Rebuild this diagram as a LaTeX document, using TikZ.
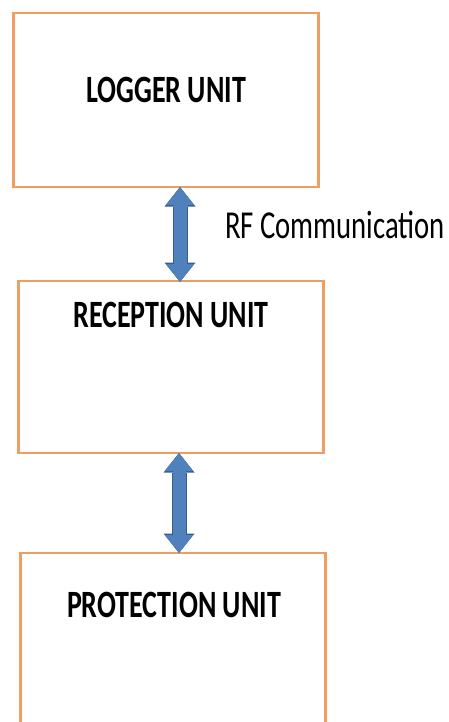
\documentclass[tikz,border=0pt]{standalone}
\usepackage{fontspec}
\setmainfont{Carlito}
\usetikzlibrary{arrows.meta}

\definecolor{boxedge}{RGB}{238,158,96}
\definecolor{arrowfill}{RGB}{79,129,189}
\definecolor{arrowedge}{RGB}{56,93,138}

\begin{document}
\begin{tikzpicture}[
    x = 1pt,
    y = -1pt,
    % the boxes of the three units
    unit/.style = {draw = boxedge, line width = 2.4pt, fill = white,
      minimum width = 305pt, inner sep = 0pt},
    caption/.style = {font = \bfseries\fontsize{28}{30}\selectfont, inner sep = 0pt},
    note/.style = {font = \fontsize{28.7}{30}\selectfont, inner sep = 0pt},
    % fat blue double arrow
    link/.style = {arrowfill, line width = 13pt,
      {Triangle[width = 28pt, length = 18pt, line width = 0pt]}-{Triangle[width = 28pt, length = 18pt, line width = 0pt]},
      preaction = {draw = arrowedge, line width = 15pt,
        {Triangle[width = 31pt, length = 19.5pt, line width = 0pt]}-{Triangle[width = 31pt, length = 19.5pt, line width = 0pt]}}},
    ]

    \def\tall#1{\scalebox{1}[1.38]{#1}}

    \useasboundingbox (0, 0) rectangle (449, 722);

    % boxes, the last one runs out of the picture
    \node[unit, minimum height = 174pt] (logger) at (166, 100) {};
    \node[unit, minimum height = 172pt] (reception) at (171, 367) {};
    \node[unit, minimum height = 190pt] (protection) at (173, 648) {};

    % texts in the boxes
    \node[caption] (loggertext) at (166, 90) {\tall{LOGGER UNIT}};
    \node[caption] (receptiontext) at (171, 314.5) {\tall{RECEPTION UNIT}};
    \node[caption] (protectiontext) at (174, 604.5) {\tall{PROTECTION UNIT}};

    % ends of the arrows
    \coordinate (a0) at (180, 187);
    \coordinate (a1) at (180, 282);
    \coordinate (b0) at (179, 453);
    \coordinate (b1) at (179, 553);

    \draw[link] (a0) -- (a1);
    \draw[link] (b0) -- (b1);

    \node[note, anchor = west] (rf) at (225, 224.5) {\tall{RF Communication}};

\end{tikzpicture}
\end{document}
